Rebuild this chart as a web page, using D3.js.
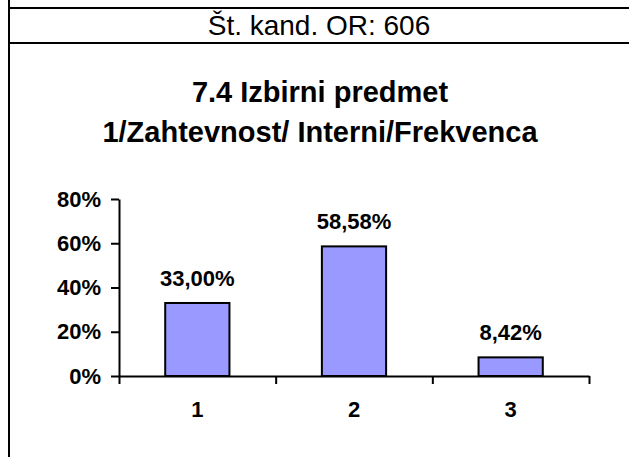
<!DOCTYPE html>
<html>
<head>
<meta charset="utf-8">
<script src="https://cdn.jsdelivr.net/npm/d3@7"></script>
<style>
  body { margin: 0; background: #fff; }
  text { font-family: "Liberation Sans", Arial, sans-serif; }
</style>
</head>
<body>
<div id="chart"></div>
<script>
// data
const categories = ['1', '2', '3'];
const shares = [0.33, 0.5858, 0.0842];
const yTicks = [0, 0.2, 0.4, 0.6, 0.8];
const headerText = 'Št. kand. OR: 606';
const titleLines = ['7.4 Izbirni predmet', '1/Zahtevnost/ Interni/Frekvenca'];

let width = 629;
let height = 457;
let margin = { top: 199, bottom: 81, left: 119, right: 40 };

let svg = d3.select('#chart')
            .append('svg')
            .attr('width', width)
            .attr('height', height)
            .style('background', 'white');

// table cell borders
svg.append('line')
    .attr('x1', 9).attr('x2', 9)
    .attr('y1', 0).attr('y2', height)
    .attr('stroke', 'black').attr('stroke-width', 2);
[8, 43].forEach(y => {
  svg.append('line')
      .attr('x1', 9).attr('x2', width)
      .attr('y1', y).attr('y2', y)
      .attr('stroke', 'black').attr('stroke-width', 2);
});

svg.append('text')
    .attr('x', 319).attr('y', 35)
    .attr('text-anchor', 'middle')
    .style('font-size', '28px')
    .text(headerText);

// title
titleLines.forEach((t, i) => {
  svg.append('text')
      .attr('x', 320).attr('y', 102 + i * 40)
      .attr('text-anchor', 'middle')
      .style('font-size', '29px')
      .style('font-weight', 'bold')
      .text(t);
});

// scales
let yScale = d3.scaleLinear()
               .domain([0, 0.8])
               .range([height - margin.bottom, margin.top]);

let xScale = d3.scaleBand()
               .domain(categories)
               .range([margin.left, width - margin.right])
               .paddingInner(0.59)
               .paddingOuter(0.295);

// category boundaries for x ticks
let edgeScale = d3.scaleLinear()
                  .domain([0, categories.length])
                  .range([margin.left, width - margin.right]);

const pct = d3.format('.0%');
const locale = d3.formatLocale({ decimal: ',', thousands: '.', grouping: [3], currency: ['', ''] });
const pct2 = locale.format('.2%');

// bars
svg.selectAll('rect.bar')
    .data(shares)
    .enter()
    .append('rect')
    .attr('class', 'bar')
    .attr('x', (d, i) => xScale(categories[i]))
    .attr('y', d => yScale(d))
    .attr('width', xScale.bandwidth())
    .attr('height', d => yScale(0) - yScale(d))
    .attr('fill', '#9999FF')
    .attr('stroke', 'black')
    .attr('stroke-width', 2);

// value labels
svg.selectAll('text.val')
    .data(shares)
    .enter()
    .append('text')
    .attr('class', 'val')
    .attr('x', (d, i) => xScale(categories[i]) + xScale.bandwidth() / 2)
    .attr('y', d => yScale(d) - 17)
    .attr('text-anchor', 'middle')
    .style('font-size', '22px')
    .style('font-weight', 'bold')
    .text(d => pct2(d));

// y axis
let yAxis = svg.append('g')
    .attr('transform', `translate(${margin.left}, 0)`)
    .call(d3.axisLeft(yScale).tickValues(yTicks).tickFormat(pct)
           .tickSize(8).tickSizeOuter(0).tickPadding(10));
yAxis.selectAll('text')
    .style('font-size', '22px')
    .style('font-weight', 'bold')
    .style('font-family', '"Liberation Sans", Arial, sans-serif')
    .attr('fill', 'black');

// x axis: boundary ticks
let xTicks = svg.append('g')
    .attr('transform', `translate(0, ${yScale(0)})`)
    .call(d3.axisBottom(edgeScale).ticks(categories.length).tickFormat('')
           .tickSize(8).tickSizeOuter(0));

// x axis: category labels
let xLabels = svg.append('g')
    .attr('transform', `translate(0, ${yScale(0)})`)
    .call(d3.axisBottom(xScale).tickSize(0));
xLabels.select('.domain').remove();
xLabels.selectAll('text')
    .attr('y', 41)
    .attr('dy', 0)
    .style('font-size', '22px')
    .style('font-weight', 'bold')
    .style('font-family', '"Liberation Sans", Arial, sans-serif')
    .attr('fill', 'black');

svg.selectAll('.domain, .tick line')
    .attr('stroke', 'black')
    .attr('stroke-width', 2);
</script>
</body>
</html>
